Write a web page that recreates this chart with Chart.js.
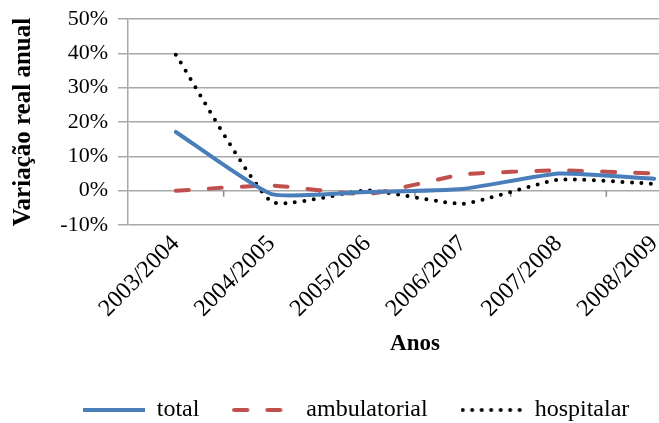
<!DOCTYPE html>
<html>
<head>
<meta charset="utf-8">
<script src="https://cdn.jsdelivr.net/npm/chart.js@4/dist/chart.umd.min.js"></script>
<style>
  html, body { margin: 0; padding: 0; background: #fff; overflow: hidden; }
  canvas { display: block; }
</style>
</head>
<body>
<canvas id="chart" width="730" height="423"></canvas>
<script>
// Variação real anual (%), por ano
const categories = ['2003/2004', '2004/2005', '2005/2006', '2006/2007', '2007/2008', '2008/2009'];
const total = [17.1, -1.0, -0.4, 0.5, 5.0, 3.5];
const ambulatorial = [0.0, 1.5, -1.0, 4.7, 5.9, 5.0];
const hospitalar = [39.6, -3.2, 0.1, -3.8, 3.2, 2.0];
const yTicks = [-10, 0, 10, 20, 30, 40, 50];

const serif = '"Liberation Serif", "Times New Roman", serif';
const gridGray = '#a8a8a8';

const styles = {
  total: { color: '#4a7ebb', dash: [] },
  ambulatorial: { color: '#c0504d', dash: [13, 20] },
  hospitalar: { color: '#000000', dash: [0, 9.5] }
};

// Legend swatch: a short stroke using the series colour and dash pattern
function lineSample(style) {
  const c = document.createElement('canvas');
  c.width = 62;
  c.height = 8;
  const g = c.getContext('2d');
  g.strokeStyle = style.color;
  g.lineWidth = 4;
  g.lineCap = style.dash.length ? 'round' : 'butt';
  g.setLineDash(style.dash);
  g.beginPath();
  g.moveTo(style.dash.length ? 2 : 0, 4);
  g.lineTo(62, 4);
  g.stroke();
  return c;
}

// Small tick marks on the zero line between the year categories
const zeroLineTicks = {
  id: 'zeroLineTicks',
  beforeDatasetsDraw(chart) {
    const xs = chart.scales.x, ys = chart.scales.y;
    const y0 = ys.getPixelForValue(0);
    const ctx = chart.ctx;
    ctx.save();
    ctx.strokeStyle = '#8c8c8c';
    ctx.lineWidth = 1.5;
    ctx.beginPath();
    for (let i = 1; i < categories.length; i++) {
      const xb = (xs.getPixelForValue(i - 1) + xs.getPixelForValue(i)) / 2;
      ctx.moveTo(xb, y0);
      ctx.lineTo(xb, y0 + 6);
    }
    ctx.stroke();
    ctx.restore();
  }
};

function series(label, data) {
  const s = styles[label];
  return {
    label: label,
    data: data,
    borderColor: s.color,
    backgroundColor: s.color,
    borderWidth: 4,
    borderDash: s.dash,
    borderCapStyle: 'round',
    borderJoinStyle: 'round',
    pointRadius: 0,
    pointHoverRadius: 0,
    pointStyle: lineSample(s),
    tension: 0.15
  };
}

new Chart(document.getElementById('chart'), {
  type: 'line',
  data: {
    labels: categories,
    datasets: [
      series('total', total),
      series('ambulatorial', ambulatorial),
      series('hospitalar', hospitalar)
    ]
  },
  options: {
    responsive: false,
    animation: false,
    devicePixelRatio: 1,
    layout: { padding: { left: 10, right: 28, top: 19, bottom: -9 } },
    plugins: {
      tooltip: { enabled: false },
      legend: {
        position: 'bottom',
        labels: {
          usePointStyle: true,
          pointStyleWidth: 62,
          padding: 33,
          color: '#000',
          font: { family: serif, size: 24 }
        }
      }
    },
    scales: {
      x: {
        offset: true,
        grid: { display: false, drawTicks: false },
        border: { display: false },
        ticks: {
          color: '#000',
          font: { family: serif, size: 24 },
          minRotation: 45,
          maxRotation: 45,
          padding: 5
        },
        title: {
          display: true,
          text: 'Anos',
          color: '#000',
          font: { family: serif, size: 23, weight: 'bold' },
          padding: { top: 0, bottom: 7 }
        },
        afterFit(scale) { scale.height = 140; }
      },
      y: {
        min: -10,
        max: 50,
        afterBuildTicks(scale) { scale.ticks = yTicks.map(v => ({ value: v })); },
        grid: { color: gridGray, lineWidth: 1.5, tickLength: 10 },
        border: { display: true, color: gridGray, width: 1.5 },
        ticks: {
          color: '#000',
          font: { family: serif, size: 22 },
          padding: 10,
          callback: v => v + '%'
        },
        title: {
          display: true,
          text: 'Variação real anual',
          color: '#000',
          font: { family: serif, size: 25, weight: 'bold', lineHeight: 1 },
          padding: { top: 1, bottom: 0 }
        },
        afterFit(scale) {
          scale.width = 118;
          scale.paddingTop = 0;
          scale.paddingBottom = 0;
        }
      }
    }
  },
  plugins: [zeroLineTicks]
});
</script>
</body>
</html>
